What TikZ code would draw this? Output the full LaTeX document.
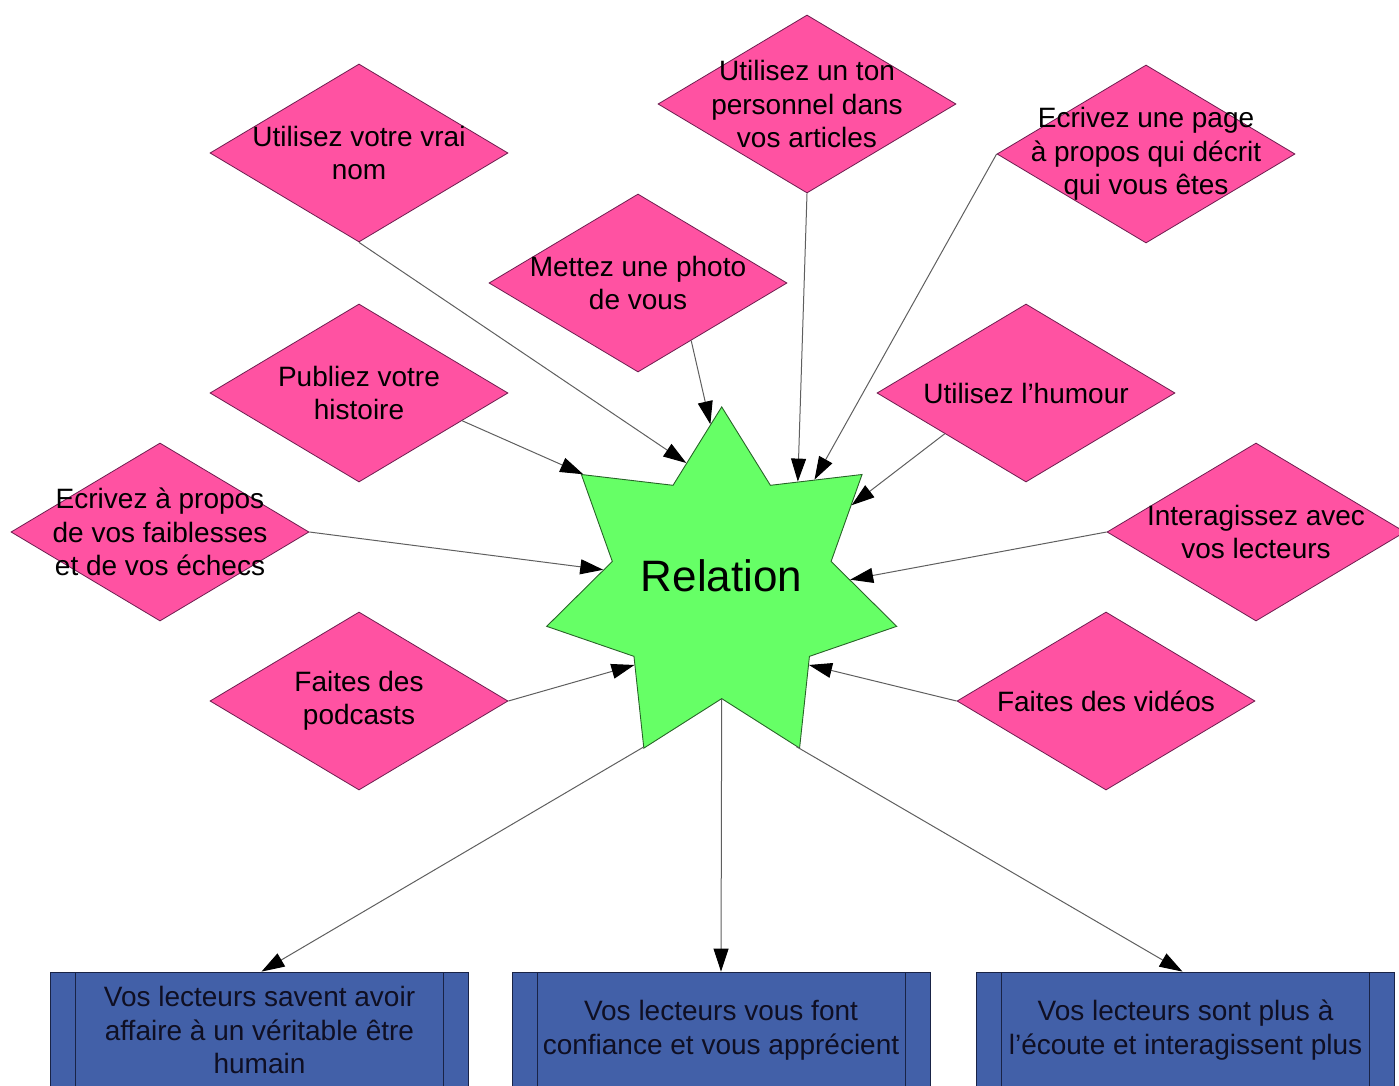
\documentclass[tikz,border=0pt]{standalone}
\usepackage{fontspec}
\setmainfont{Liberation Sans}
\usetikzlibrary{shapes.geometric,arrows.meta,calc}

\definecolor{petal}{RGB}{255,82,162}
\definecolor{petaledge}{RGB}{110,30,80}
\definecolor{burst}{RGB}{102,255,102}
\definecolor{burstedge}{RGB}{40,100,40}
\definecolor{outcome}{RGB}{66,96,168}
\definecolor{outcomeedge}{RGB}{25,35,70}
\definecolor{outcometext}{RGB}{15,15,35}
\definecolor{linkgray}{RGB}{95,95,95}

\begin{document}
\begin{tikzpicture}[x=1pt,y=-1pt,
  idea/.style={shape=diamond, draw=petaledge, fill=petal, line width=0.8pt,
    minimum width=298pt, minimum height=178pt, inner sep=0pt},
  ideatext/.style={align=center, font=\fontsize{28}{33.5}\selectfont,
    text=black, inner sep=0pt},
  hub/.style={shape=star, star points=7, star point ratio=1.6,
    minimum size=359pt, inner sep=0pt, draw=burstedge, fill=burst, line width=0.9pt},
  outcomebox/.style={rectangle, draw=outcomeedge, fill=outcome, line width=0.8pt,
    minimum width=418pt, minimum height=116pt, inner sep=0pt, align=center,
    font=\fontsize{28}{33.5}\selectfont, text=outcometext,
    path picture={
      \draw[outcomeedge, line width=0.8pt]
        ([xshift=25pt]path picture bounding box.north west) --
        ([xshift=25pt]path picture bounding box.south west);
      \draw[outcomeedge, line width=0.8pt]
        ([xshift=-25pt]path picture bounding box.north east) --
        ([xshift=-25pt]path picture bounding box.south east);
    }},
  link/.style={draw=linkgray, line width=1pt,
    -{Triangle[length=23pt,width=15pt,color=black]}}
]
\useasboundingbox (0,0) rectangle (1399,1086);
\clip (0,0) rectangle (1399,1086);

% central star
\node[hub, label={[name=reltext, font=\fontsize{44}{50}\selectfont, yshift=11pt]center:Relation}]
  (rel) at (721.7,586.4) {};

% suggestions
\node[idea, label={[ideatext, name=t1]center:{Utilisez votre vrai\\nom}}] (d1) at (359,153) {};
\node[idea, label={[ideatext, name=t2]center:{Utilisez un ton\\personnel dans\\vos articles}}] (d2) at (807,104) {};
\node[idea, label={[ideatext, name=t3]center:{Ecrivez une page\\à propos qui décrit\\qui vous êtes}}] (d3) at (1146,154) {};
\node[idea, label={[ideatext, name=t4]center:{Mettez une photo\\de vous}}] (d4) at (638,283) {};
\node[idea, label={[ideatext, name=t5]center:{Publiez votre\\histoire}}] (d5) at (359,393) {};
\node[idea, label={[ideatext, name=t6]center:{Utilisez l’humour}}] (d6) at (1026,393) {};
\node[idea, label={[ideatext, name=t7]center:{Ecrivez à propos\\de vos faiblesses\\et de vos échecs}}] (d7) at (160,532) {};
\node[idea, label={[ideatext, name=t8]center:{Interagissez avec\\vos lecteurs}}] (d8) at (1256,532) {};
\node[idea, label={[ideatext, name=t9]center:{Faites des\\podcasts}}] (d9) at (359,701) {};
\node[idea, label={[ideatext, name=t10]center:{Faites des vidéos}}] (d10) at (1106,701) {};

% outcomes
\node[outcomebox] (b1) at (259.5,1030) {Vos lecteurs savent avoir\\affaire à un véritable être\\humain};
\node[outcomebox] (b2) at (721,1030) {Vos lecteurs vous font\\confiance et vous apprécient};
\node[outcomebox] (b3) at (1185.5,1030) {Vos lecteurs sont plus à\\l’écoute et interagissent plus};

% connectors into the star
\draw[link] (d1.south) -- (rel.106.8);
\draw[link] ($(d4.south)!0.356!(d4.east)$) -- (rel.94.1);
\draw[link] (d2.south) -- (rel.54.2);
\draw[link] (d3.west) -- (rel.49.6);
\draw[link] ($(d6.west)!0.456!(d6.south)$) -- (rel.32.7);
\draw[link] (d8.west) -- (rel.3.7);
\draw[link] (d10.west) -- (rel.-42.7);
\draw[link] (d9.east) -- (rel.222.3);
\draw[link] (d7.east) -- (rel.172.2);
\draw[link] ($(d5.south)!0.69!(d5.east)$) -- (rel.141.7);

% connectors out of the star
\draw[link] (rel.244.3) -- ([xshift=2pt]b1.north);
\draw[link] (rel.270) -- (b2.north);
\draw[link] (rel.295.7) -- ([xshift=-3pt]b3.north);
\end{tikzpicture}
\end{document}
